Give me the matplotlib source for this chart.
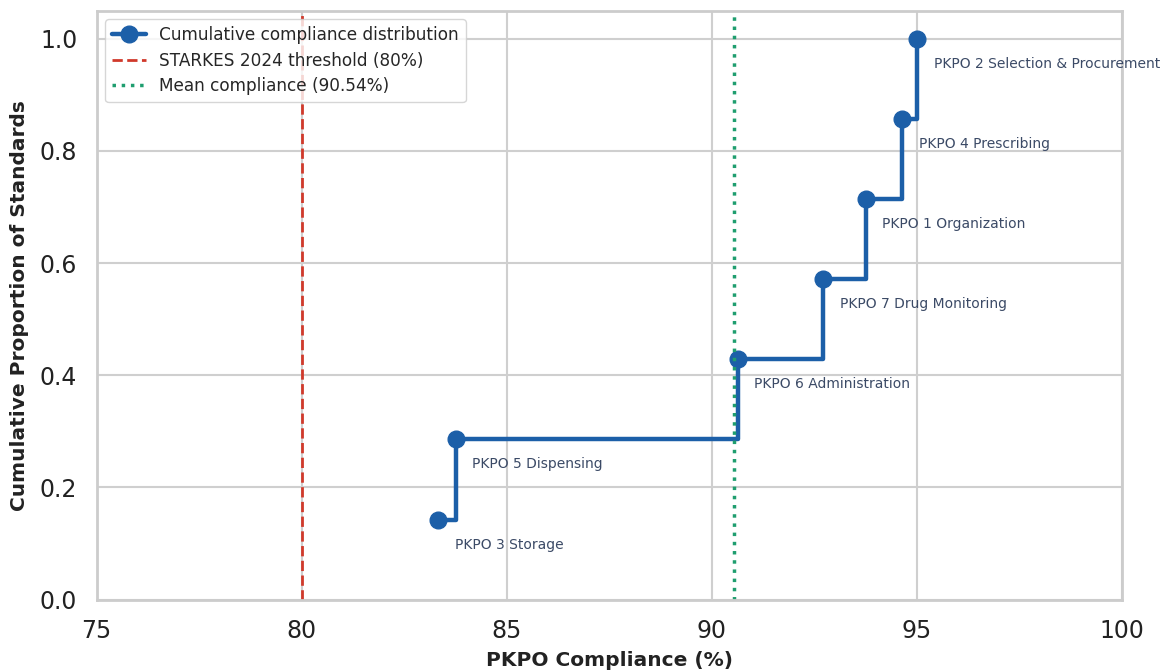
"""Cumulative distribution of PKPO standard compliance."""

import matplotlib

matplotlib.use("Agg")
import matplotlib.pyplot as plt
import numpy as np
import seaborn as sns

standards = [
    "PKPO 3 Storage",
    "PKPO 5 Dispensing",
    "PKPO 6 Administration",
    "PKPO 7 Drug Monitoring",
    "PKPO 1 Organization",
    "PKPO 4 Prescribing",
    "PKPO 2 Selection & Procurement",
]
compliance = [83.33, 83.75, 90.63, 92.71, 93.75, 94.64, 95.00]
threshold = 80
mean_value = 90.54
x_ticks = [75, 80, 85, 90, 95, 100]

sns.set_theme(style="whitegrid")
plt.rcParams["font.family"] = ["DejaVu Sans"]

cum = np.arange(1, len(compliance) + 1) / len(compliance)

fig, ax = plt.subplots(figsize=(11.65, 6.7), dpi=100)
fig.subplots_adjust(left=0.083, right=0.963, top=0.984, bottom=0.105)

blue = "#1c5fa8"
ax.step(compliance, cum, where="post", color=blue, linewidth=3.2,
        marker="o", markersize=12, label="Cumulative compliance distribution")
ax.axvline(threshold, color="#d0392b", linestyle="--", linewidth=2,
           label="STARKES 2024 threshold (80%)")
ax.axvline(mean_value, color="#1f9e6f", linestyle=":", linewidth=2.5,
           label=f"Mean compliance ({mean_value:.2f}%)")

for name, x, y in zip(standards, compliance, cum):
    ax.annotate(name, (x, y), xytext=(12, -13), textcoords="offset points",
                ha="left", va="top", fontsize=10, color="#3b4a66")

ax.set_xlim(75, 100)
ax.set_ylim(0, 1.05)
ax.set_xticks(x_ticks)
ax.tick_params(axis="both", labelsize=17, colors="#222222", pad=8)
ax.set_xlabel("PKPO Compliance (%)", fontsize=14.5, fontweight="bold",
              color="#222222", labelpad=6)
ax.set_ylabel("Cumulative Proportion of Standards", fontsize=14.5, fontweight="bold",
              color="#222222", labelpad=8)
for spine in ax.spines.values():
    spine.set_color("#cccccc")
    spine.set_linewidth(2)
ax.grid(color="#cfcfcf", linewidth=1.5)

ax.legend(loc="upper left", fontsize=12.2, frameon=True, labelspacing=0.45,
          borderaxespad=0.5)

fig.savefig("out.png", dpi=100)
